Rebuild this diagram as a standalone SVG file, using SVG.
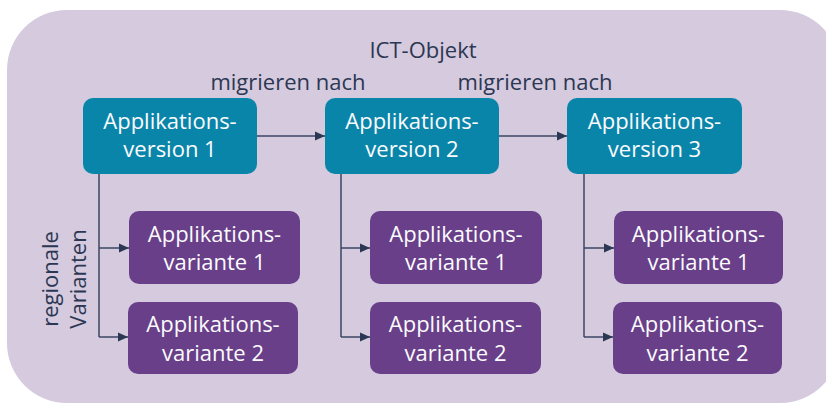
<svg xmlns="http://www.w3.org/2000/svg" width="826" height="405" viewBox="0 0 826 405">
<defs>
<style>
.bg{fill:#d5cade}
.ver{fill:#0a85aa}
.var{fill:#683f88}
.lbl{font-family:"Open Sans","Liberation Sans",sans-serif;font-size:22px;fill:#fbfbfd;text-anchor:middle}
.dark{font-family:"Open Sans","Liberation Sans",sans-serif;font-size:22px;fill:#2c3753;text-anchor:middle}
.con{stroke:#3a4564;stroke-width:1.5;fill:none}
</style>
<marker id="ah" viewBox="0 0 10 10" refX="10" refY="5" markerWidth="10" markerHeight="10" markerUnits="userSpaceOnUse" orient="auto">
<path d="M0,0.5 L10,5 L0,9.5 Z" fill="#2c3753"/>
</marker>
</defs>
<rect class="bg" x="7" y="10" width="833" height="393" rx="60" ry="60"/>
<text class="dark" x="423" y="58">ICT-Objekt</text>
<text class="dark" x="288" y="90">migrieren nach</text>
<text class="dark" x="535" y="90">migrieren nach</text>
<text class="dark" transform="translate(58,279) rotate(-90)" x="0" y="0">regionale</text>
<text class="dark" transform="translate(86,279) rotate(-90)" x="0" y="0">Varianten</text>
<g id="connectors">
<line class="con" x1="257" y1="136" x2="325" y2="136" marker-end="url(#ah)"/>
<line class="con" x1="499" y1="136" x2="567" y2="136" marker-end="url(#ah)"/>
<path class="con" d="M99,174 V337"/>
<line class="con" x1="99" y1="248" x2="129" y2="248" marker-end="url(#ah)"/>
<line class="con" x1="99" y1="337" x2="128" y2="337" marker-end="url(#ah)"/>
<path class="con" d="M341,174 V337"/>
<line class="con" x1="341" y1="248" x2="370" y2="248" marker-end="url(#ah)"/>
<line class="con" x1="341" y1="337" x2="370" y2="337" marker-end="url(#ah)"/>
<path class="con" d="M584,174 V337"/>
<line class="con" x1="584" y1="248" x2="614" y2="248" marker-end="url(#ah)"/>
<line class="con" x1="584" y1="337" x2="613" y2="337" marker-end="url(#ah)"/>
</g>
<g id="v1"><rect class="ver" x="83" y="98" width="174" height="76" rx="10"/><text class="lbl" x="170" y="129">Applikations-</text><text class="lbl" x="170" y="157">version 1</text></g>
<g id="v2"><rect class="ver" x="325" y="98" width="174" height="76" rx="10"/><text class="lbl" x="412" y="129">Applikations-</text><text class="lbl" x="412" y="157">version 2</text></g>
<g id="v3"><rect class="ver" x="567" y="98" width="175" height="76" rx="10"/><text class="lbl" x="654.5" y="129">Applikations-</text><text class="lbl" x="654.5" y="157">version 3</text></g>
<g id="v1a"><rect class="var" x="129" y="211" width="171" height="73" rx="10"/><text class="lbl" x="214.5" y="242">Applikations-</text><text class="lbl" x="214.5" y="270">variante 1</text></g>
<g id="v1b"><rect class="var" x="128" y="302" width="170" height="72" rx="10"/><text class="lbl" x="213" y="332">Applikations-</text><text class="lbl" x="213" y="361">variante 2</text></g>
<g id="v2a"><rect class="var" x="370" y="211" width="172" height="73" rx="10"/><text class="lbl" x="456" y="242">Applikations-</text><text class="lbl" x="456" y="270">variante 1</text></g>
<g id="v2b"><rect class="var" x="370" y="302" width="171" height="72" rx="10"/><text class="lbl" x="455.5" y="332">Applikations-</text><text class="lbl" x="455.5" y="361">variante 2</text></g>
<g id="v3a"><rect class="var" x="614" y="211" width="169" height="73" rx="10"/><text class="lbl" x="698.5" y="242">Applikations-</text><text class="lbl" x="698.5" y="270">variante 1</text></g>
<g id="v3b"><rect class="var" x="613" y="302" width="169" height="72" rx="10"/><text class="lbl" x="697.5" y="332">Applikations-</text><text class="lbl" x="697.5" y="361">variante 2</text></g>
</svg>
